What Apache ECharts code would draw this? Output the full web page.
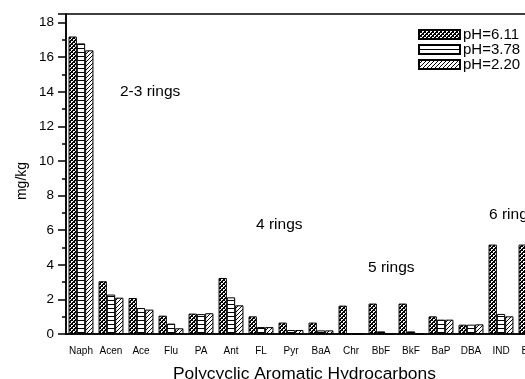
<!DOCTYPE html>
<html>
<head>
<meta charset="utf-8">
<script src="https://cdn.jsdelivr.net/npm/echarts@6/dist/echarts.min.js"></script>
<style>
  html, body { margin: 0; padding: 0; background: #fff; }
  #main { width: 525px; height: 379px; }
</style>
</head>
<body>
<div id="main"></div>
<script>
var categories = ['Naph', 'Acen', 'Ace', 'Flu', 'PA', 'Ant', 'FL', 'Pyr', 'BaA', 'Chr',
    'BbF', 'BkF', 'BaP', 'DBA', 'IND', 'BgP'];
var ph611 = [17.2, 3.05, 2.08, 1.06, 1.18, 3.24, 1.02, 0.66, 0.66, 1.64, 1.76, 1.76, 1.02, 0.54, 5.17, 5.17];
var ph378 = [16.8, 2.28, 1.5, 0.6, 1.15, 2.12, 0.4, 0.23, 0.21, 0, 0.15, 0.15, 0.83, 0.54, 1.16, 1.1];
var ph220 = [16.4, 2.1, 1.41, 0.33, 1.2, 1.66, 0.4, 0.23, 0.21, 0, 0, 0, 0.83, 0.56, 1.02, 1.0];
var seriesNames = ['pH=6.11', 'pH=3.78', 'pH=2.20'];

var font = 'Liberation Sans, Arial, sans-serif';

// hatch patterns like the original plot
function makePattern(kind) {
    var c = document.createElement('canvas');
    var s = 4;
    c.width = s;
    c.height = s;
    var ctx = c.getContext('2d');
    ctx.fillStyle = '#fff';
    ctx.fillRect(0, 0, s, s);
    ctx.fillStyle = '#000';
    if (kind === 'cross') {
        for (var k = 0; k < s; k++) {
            ctx.fillRect(k, k, 1, 1);
            ctx.fillRect(s - 1 - k, k, 1, 1);
        }
        ctx.fillRect(2, 0, 1, 1);
        ctx.fillRect(0, 2, 1, 1);
    } else if (kind === 'horiz') {
        ctx.fillRect(0, 0, s, 1);
    } else {
        for (var i = 0; i < s; i++) {
            ctx.fillRect(s - 1 - i, i, 1, 1);
        }
    }
    return { image: c, repeat: 'repeat' };
}

var patterns = [makePattern('cross'), makePattern('horiz'), makePattern('diag')];
var values = [ph611, ph378, ph220];

var myChart = echarts.init(document.getElementById('main'), null, { renderer: 'canvas' });

var series = values.map(function(arr, i) {
    return {
        name: seriesNames[i],
        type: 'bar',
        data: arr,
        barGap: '0%',
        barCategoryGap: '17%',
        itemStyle: {
            color: patterns[i],
            borderColor: '#000',
            borderWidth: 1
        }
    };
});

var option = {
    animation: false,
    backgroundColor: '#fff',
    textStyle: { fontFamily: font },
    grid: {
        left: 66,
        top: 14,
        width: 480,
        bottom: 45,
        outerBoundsMode: 'none',
        show: true,
        borderColor: '#000',
        borderWidth: 1.5
    },
    legend: {
        orient: 'vertical',
        left: 418,
        top: 27,
        padding: 0,
        itemWidth: 41,
        itemHeight: 9,
        itemGap: 0,
        icon: 'rect',
        textStyle: { fontSize: 15, lineHeight: 14, color: '#000', fontFamily: font, padding: [0, 0, 0, -2] },
        data: seriesNames
    },
    xAxis: {
        type: 'category',
        data: categories,
        axisLine: { lineStyle: { color: '#000', width: 1.5 } },
        axisTick: { alignWithLabel: true, length: 6, lineStyle: { color: '#000', width: 1.5 } },
        axisLabel: { color: '#000', fontSize: 10, margin: 12, interval: 0, fontFamily: font }
    },
    yAxis: {
        type: 'value',
        min: 0,
        max: 18.5,
        interval: 2,
        axisLine: { show: true, lineStyle: { color: '#000', width: 1.5 } },
        axisTick: { show: true, length: 8, lineStyle: { color: '#000', width: 1.5 } },
        minorTick: { show: true, splitNumber: 2, length: 4, lineStyle: { color: '#000', width: 1.5 } },
        splitLine: { show: false },
        axisLabel: { color: '#000', fontSize: 13.5, margin: 12, fontFamily: font,
            showMaxLabel: false }
    },
    graphic: [
        { type: 'text', left: 120, top: 84, style: { text: '2-3 rings', font: '15.5px ' + font, fill: '#000' } },
        { type: 'text', left: 256, top: 217, style: { text: '4 rings', font: '15.5px ' + font, fill: '#000' } },
        { type: 'text', left: 368, top: 260, style: { text: '5 rings', font: '15.5px ' + font, fill: '#000' } },
        { type: 'text', left: 489, top: 207, style: { text: '6 rings', font: '15.5px ' + font, fill: '#000' } },
        { type: 'text', left: 173, top: 366, style: { text: 'Polycyclic Aromatic Hydrocarbons', font: '17.4px ' + font, fill: '#000' } },
        { type: 'text', x: 22, y: 181, rotation: Math.PI / 2,
            style: { text: 'mg/kg', font: '14px ' + font, fill: '#000', align: 'center', verticalAlign: 'middle' } }
    ],
    series: series
};

myChart.setOption(option);
</script>
</body>
</html>
